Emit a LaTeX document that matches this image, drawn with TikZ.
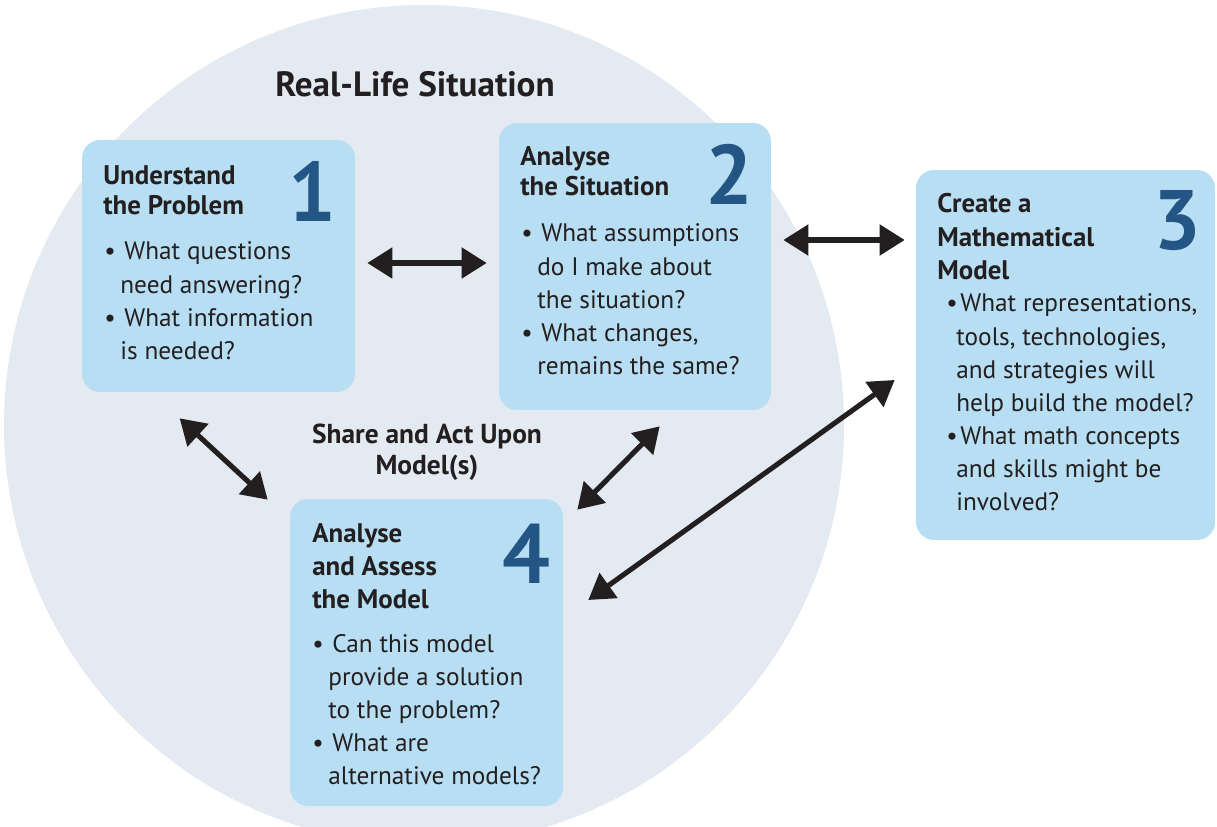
\documentclass[tikz,border=0pt]{standalone}
\usepackage{fontspec}
\setmainfont{PT Sans}
\usetikzlibrary{arrows.meta, positioning, calc}
\definecolor{ringgrey}{HTML}{E4EAF1}
\definecolor{boxblue}{HTML}{B7DEF3}
\definecolor{numblue}{HTML}{245685}
\definecolor{inkdark}{HTML}{231F20}
\newcommand{\bul}{\makebox[11.4pt][l]{\textbullet}}
\newcommand{\bulin}{\hspace*{3.4pt}\makebox[8pt][l]{\textbullet}}
\newcommand{\ind}{\hspace*{9.1pt}}
\newcommand{\toplines}[1]{\parbox[t]{7cm}{\raggedright #1}}
\tikzset{
  stage/.style={fill=boxblue, rounded corners=0.36cm, inner sep=0pt},
  heading/.style={anchor=base west, inner sep=0pt, text=inkdark,
    font=\fontsize{15.3}{17}\selectfont\bfseries},
  items/.style={anchor=base west, inner sep=0pt, text=inkdark,
    font=\fontsize{14.4}{18.8}\selectfont},
  stepnum/.style={anchor=base east, inner sep=0pt, text=numblue,
    font=\fontsize{48}{48}\selectfont\bfseries},
  link/.style={line width=2.9pt, draw=inkdark,
    {Triangle[length=0.5cm,width=0.6cm]}-{Triangle[length=0.5cm,width=0.6cm]}}
}
\begin{document}
\begin{tikzpicture}[x=0.02cm, y=-0.02cm]
\useasboundingbox (0,0) rectangle (1217,827);
\fill[white] (0,0) rectangle (1217,827);

% Real-life situation
\begin{scope}
\clip (0,0) rectangle (1217,827);
\fill[ringgrey] (424,425) circle (420);
\end{scope}
\node[anchor=base, inner sep=0pt, text=inkdark, font=\fontsize{20}{22}\selectfont\bfseries] (title) at (415,97) {Real-Life Situation};

% Stages
\node[stage, minimum width=5.46cm, minimum height=5.04cm] (u) at (218.5,266) {};
\node[stage, minimum width=5.44cm, minimum height=5.74cm] (s) at (635,266.5) {};
\node[stage, minimum width=5.98cm, minimum height=7.4cm] (c) at (1065.5,355) {};
\node[stage, minimum width=5.46cm, minimum height=6.14cm] (m) at (426.5,652.5) {};

% Stage 1
\node[heading] (u head) at (103,185) {\toplines{Understand\\the Problem}};
\node[stepnum] (u num) at (337,222) {1};
\node[items] (u list) at (104,260) {\toplines{\bul What questions\\\ind need answering?\\\bul What information\\\ind is needed?}};

% Stage 2
\node[heading] (s head) at (520,166) {\toplines{Analyse\\the Situation}};
\node[stepnum] (s num) at (754,205) {2};
\node[items] (s list) at (521,242) {\toplines{\bul What assumptions\\\ind do I make about\\\ind the situation?\\\bul What changes,\\\ind remains the same?}};

% Stage 3
\node[heading, font=\fontsize{15.3}{18.8}\selectfont\bfseries] (c head) at (937,213) {\toplines{Create a\\Mathematical\\Model}};
\node[stepnum] (c num) at (1202,250) {3};
\node[items] (c list) at (940,312) {\toplines{\bulin What representations,\\\ind tools, technologies,\\\ind and strategies will\\\ind help build the model?\\\bulin What math concepts\\\ind and skills might be\\\ind involved?}};

% Stage 4
\node[heading, font=\fontsize{15.3}{18.8}\selectfont\bfseries] (m head) at (312,542) {\toplines{Analyse\\and Assess\\the Model}};
\node[stepnum] (m num) at (551,583) {4};
\node[items] (m list) at (312,652) {\toplines{\bul Can this model\\\ind provide a solution\\\ind to the problem?\\\bul What are\\\ind alternative models?}};

% Share label
\node[anchor=base, inner sep=0pt, text=inkdark,
  font=\fontsize{15.6}{18.2}\selectfont\bfseries] (share) at (427,443) {\parbox[t]{6cm}{\centering Share and Act Upon\\Model(s)}};

% Connectors
\draw[link] ([shift={(12,-3)}]u.east) -- ([shift={(-12,-3.5)}]s.west);
\draw[link] ([shift={(12,-26.5)}]s.east) -- ([shift={(-11,-115)}]c.west);
\draw[link] ([shift={(98,26)}]u.south west) -- ([shift={(-22,1)}]m.north west);
\draw[link] ([shift={(161,16)}]s.south west) -- ([shift={(14,11)}]m.north east);
\draw[link] ([shift={(-21,25)}]c.west) -- ([shift={(25,-52.5)}]m.east);
\end{tikzpicture}
\end{document}
